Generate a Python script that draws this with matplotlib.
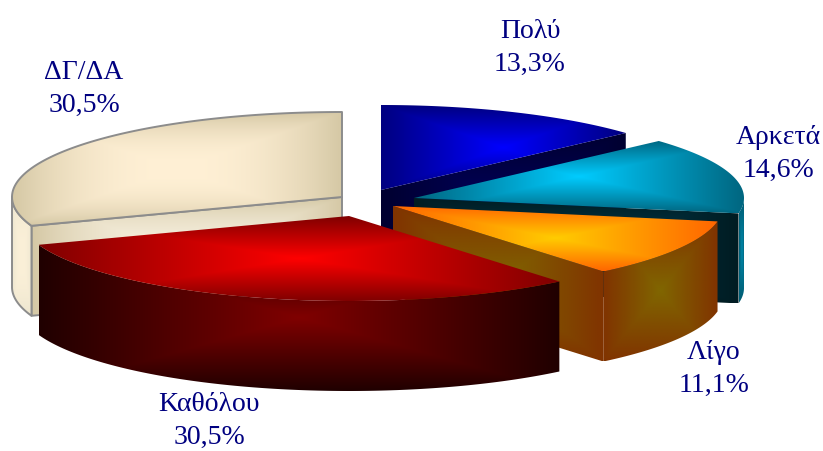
import numpy as np
import matplotlib
matplotlib.use('Agg')
import matplotlib.pyplot as plt
from matplotlib.colors import to_rgb
from matplotlib.patches import Polygon

labels = ['Πολύ', 'Αρκετά', 'Λίγο', 'Καθόλου', 'ΔΓ/ΔΑ']
values = [13.3, 14.6, 11.1, 30.5, 30.5]

# pie geometry, pixels of the 823x451 canvas
RX, RY, DEPTH = 330, 85, 90
apexes = [(381, 190), (414, 198), (393, 206), (349, 216), (342, 197)]
label_pos = [(530, 38), (778, 144), (714, 359), (209, 411), (84, 79)]

# colours: (top centre, top edge, side centre, side edge, outer centre, outer edge)
colors = [
    ('#0000ff', '#000080', '#00005c', '#000030', '#00005c', '#000030'),
    ('#00ccff', '#006680', '#004055', '#001c22', '#0088aa', '#005a70'),
    ('#ffcc00', '#ff6600', '#806600', '#803300', '#806600', '#803300'),
    ('#ff0000', '#800000', '#800000', '#200000', '#800000', '#200000'),
    ('#fff0d5', '#d5c8a5', '#f5eedc', '#d5c8a5', '#fbf0d8', '#ece5cf'),
]
GREY = '#8c8c8c'
TEXT = '#000080'

z = [1]


def shade(ax, pts, c_mid, c_edge, line=None, power=1.0):
    # rectangular "from centre" gradient, clipped to the polygon
    pts = np.array(pts)
    x0, y0 = pts.min(axis=0)
    x1, y1 = pts.max(axis=0)
    u = np.linspace(-1, 1, 300)
    v = np.linspace(-1, 1, 200)
    uu, vv = np.meshgrid(u, v)
    t = (np.maximum(np.abs(uu), np.abs(vv)) ** power)[..., None]
    img = np.array(to_rgb(c_mid)) * (1 - t) + np.array(to_rgb(c_edge)) * t
    im = ax.imshow(img, extent=(x0, x1, y1, y0), origin='upper', aspect='auto',
                   interpolation='bilinear', zorder=z[0])
    patch = Polygon(pts, closed=True, fc='none', ec=line if line else 'none',
                    lw=1.4, joinstyle='round', zorder=z[0] + 0.5)
    ax.add_patch(patch)
    im.set_clip_path(patch)
    z[0] += 1


def arc(a, t0, t1):
    # t measured clockwise from the top, in degrees
    t = np.radians(np.linspace(t0, t1, 120))
    return np.column_stack((a[0] + RX * np.sin(t), a[1] - RY * np.cos(t)))


fig = plt.figure(figsize=(8.23, 4.51), dpi=100)
ax = fig.add_axes([0, 0, 1, 1])

edges = np.cumsum([0] + values) / sum(values) * 360
drop = np.array([0, DEPTH])

# back to front: ΔΓ/ΔΑ first, then clockwise from the top
for i in [4, 0, 1, 2, 3]:
    a = np.array(apexes[i], dtype=float)
    t0, t1 = edges[i], edges[i + 1]
    top_c, top_e, side_c, side_e, out_c, out_e = colors[i]
    line = GREY if i == 4 else None
    power = 2.2 if i == 4 else 1.0

    # flat cut faces that look towards the viewer
    for t, face in ((t0, np.sin(np.radians(t0)) < -1e-6), (t1, np.sin(np.radians(t1)) > 1e-6)):
        if face:
            p = arc(a, t, t)[0]
            shade(ax, [a, p, p + drop, a + drop], side_c, side_e, line, power)

    # outer wall, only the front half of the ellipse shows
    lo, hi = max(t0, 90), min(t1, 270)
    if hi > lo:
        rim = arc(a, lo, hi)
        shade(ax, np.vstack((rim, (rim + drop)[::-1])), out_c, out_e, line, power)

    top = np.vstack(([a], arc(a, t0, t1)))
    shade(ax, top, top_c, top_e, line, power)

for name, v, (x, y) in zip(labels, values, label_pos):
    ax.text(x, y, name, ha='center', va='baseline', color=TEXT,
            family='Liberation Serif', fontsize=20, zorder=100)
    ax.text(x, y + 33, f'{v:.1f}'.replace('.', ',') + '%', ha='center', va='baseline',
            color=TEXT, family='Liberation Serif', fontsize=20, zorder=100)

ax.set_xlim(0, 823)
ax.set_ylim(451, 0)
ax.axis('off')
fig.savefig('out.png', dpi=100, facecolor='white')
